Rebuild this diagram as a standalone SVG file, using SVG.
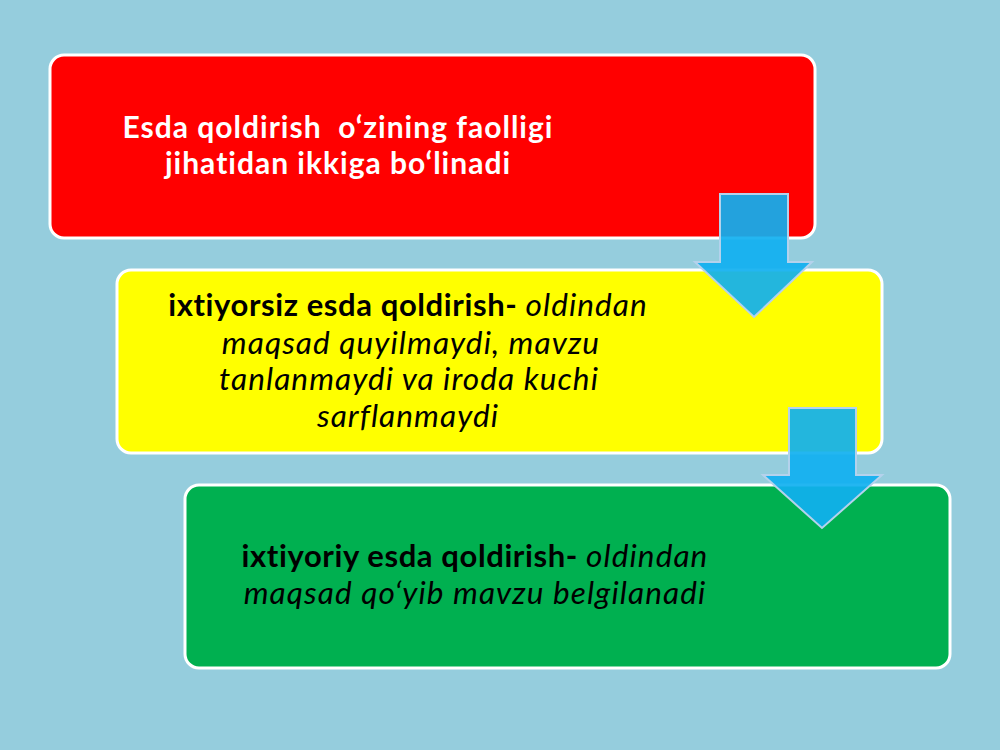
<svg xmlns="http://www.w3.org/2000/svg" width="1000" height="750" viewBox="0 0 1000 750">
<style>
.box{stroke:#ffffff;stroke-width:3}
.t{font-family:Lato,"Liberation Sans",sans-serif;font-size:31.5px;letter-spacing:1.1px;text-anchor:middle}
.w{fill:#ffffff;font-weight:bold;font-size:30px;letter-spacing:1px}
.k{fill:#000000}
.b{font-weight:bold;font-style:normal;font-size:31px;letter-spacing:0.6px}
.i{font-style:italic}
.arrow{fill:#10B0F0;fill-opacity:0.92;stroke:#B4D2EC;stroke-width:2}
</style>
<rect width="1000" height="750" fill="#95CDDD"/>
<g id="node-red">
<rect class="box" x="50" y="55" width="765" height="183" rx="14" fill="#FF0000"/>
<text class="t w" x="338" y="138" xml:space="preserve">Esda qoldirish  o‘zining faolligi</text>
<text class="t w" x="338" y="174">jihatidan ikkiga bo‘linadi</text>
</g>
<g id="node-yellow">
<rect class="box" x="117" y="270" width="765" height="183" rx="14" fill="#FFFF00"/>
<text class="t k" x="408" y="316" xml:space="preserve"><tspan class="b">ixtiyorsiz esda qoldirish- </tspan><tspan class="i">oldindan</tspan></text>
<text class="t k i" x="411" y="354">maqsad quyilmaydi, mavzu</text>
<text class="t k i" x="409" y="390">tanlanmaydi va iroda kuchi</text>
<text class="t k i" x="408" y="427">sarflanmaydi</text>
</g>
<g id="node-green">
<rect class="box" x="185" y="485" width="765" height="183" rx="14" fill="#00B050"/>
<text class="t k" x="475" y="567" xml:space="preserve"><tspan class="b">ixtiyoriy esda qoldirish- </tspan><tspan class="i">oldindan</tspan></text>
<text class="t k i" x="475" y="604">maqsad qo‘yib mavzu belgilanadi</text>
</g>
<g id="connectors">
<path class="arrow" d="M720,194 L788,194 L788,262 L812,262 L754,317 L695,262 L720,262 Z"/>
<path class="arrow" d="M789,408 L856,408 L856,475 L882,475 L822,528 L763,475 L789,475 Z"/>
</g>
</svg>
